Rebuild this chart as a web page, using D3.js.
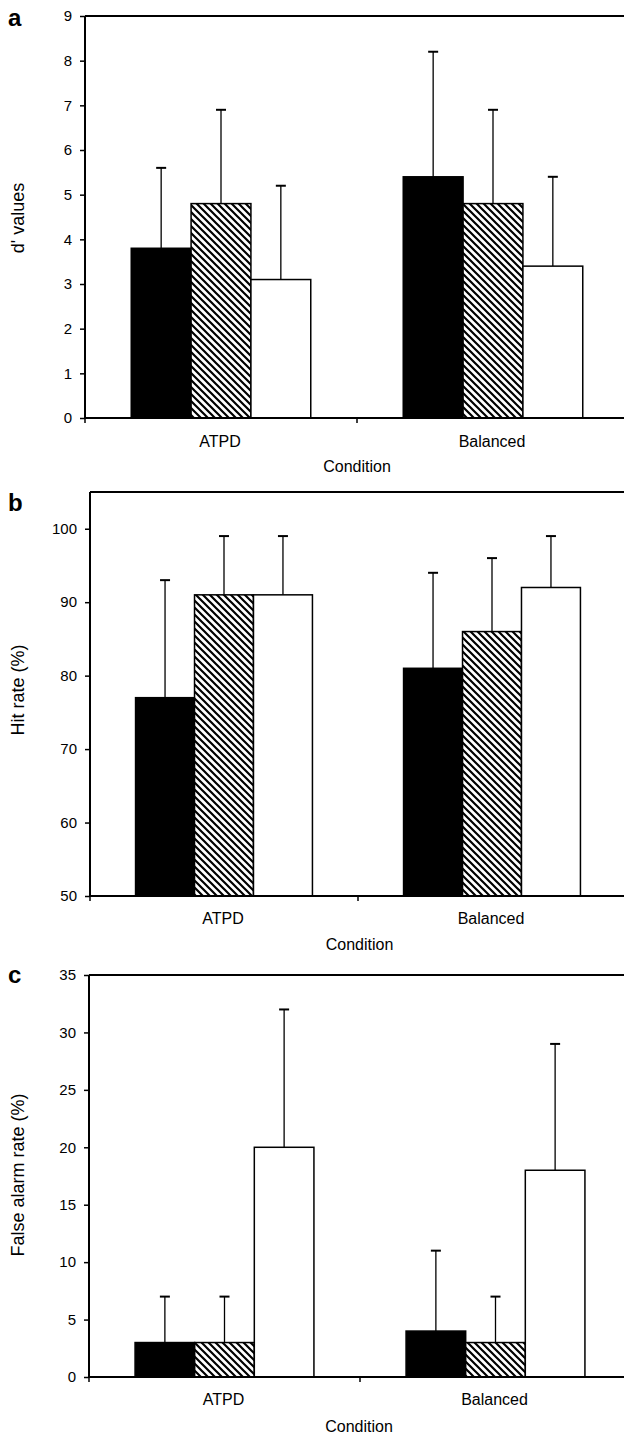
<!DOCTYPE html>
<html>
<head>
<meta charset="utf-8">
<script src="https://cdn.jsdelivr.net/npm/d3@7"></script>
<style>
  body { margin: 0; background: #fff; }
  svg { display: block; }
  text { font-family: "Liberation Sans", Arial, sans-serif; fill: #000; }
</style>
</head>
<body>
<svg id="chart" width="624" height="1436"></svg>
<script>
// categories and series
var conditions = ["ATPD", "Balanced"];
var groups = ["black", "hatch", "white"];

// panel a: d' values (mean, upper error end)
var dMeans = [[3.8, 4.8, 3.1], [5.4, 4.8, 3.4]];
var dErrTop = [[5.6, 6.9, 5.2], [8.2, 6.9, 5.4]];
var dTicks = [0, 1, 2, 3, 4, 5, 6, 7, 8, 9];

// panel b: hit rate
var hitMeans = [[77, 91, 91], [81, 86, 92]];
var hitErrTop = [[93, 99, 99], [94, 96, 99]];
var hitTicks = [50, 60, 70, 80, 90, 100];

// panel c: false alarm rate
var faMeans = [[3, 3, 20], [4, 3, 18]];
var faErrTop = [[7, 7, 32], [11, 7, 29]];
var faTicks = [0, 5, 10, 15, 20, 25, 30, 35];

var svg = d3.select("#chart");

// hatch pattern for the middle bars
var defs = svg.append("defs");
var pat = defs.append("pattern")
	.attr("id", "hatch")
	.attr("patternUnits", "userSpaceOnUse")
	.attr("width", 7)
	.attr("height", 7);
pat.append("rect").attr("width", 7).attr("height", 7).attr("fill", "#fff");
pat.append("path")
	.attr("d", "M-1,-1 L8,8 M-4,3 L1,8 M6,-1 L9,2")
	.attr("stroke", "#000")
	.attr("stroke-width", 2.2);

var fills = { black: "#000", hatch: "url(#hatch)", white: "#fff" };

function drawPanel(p) {
	var g = svg.append("g");

	var y = d3.scaleLinear().domain(p.domain).range([p.bottom, p.top]);
	var x0 = d3.scaleBand().domain(conditions).range([p.left, p.right]);
	var bw = x0.bandwidth();
	var x1 = d3.scaleBand().domain(groups).range([bw * 0.17, bw * 0.83]);

	// top frame line
	g.append("line")
		.attr("x1", p.left).attr("x2", p.right)
		.attr("y1", p.top).attr("y2", p.top)
		.attr("stroke", "#000").attr("stroke-width", 2);

	// bars
	conditions.forEach(function(c, ci) {
		groups.forEach(function(s, si) {
			var xb = x0(c) + x1(s);
			var v = p.means[ci][si];
			var e = p.errTop[ci][si];
			var cx = xb + x1.bandwidth() / 2;
			// error bar (upper only)
			g.append("line")
				.attr("x1", cx).attr("x2", cx)
				.attr("y1", y(v)).attr("y2", y(e))
				.attr("stroke", "#000").attr("stroke-width", 1.3);
			g.append("line")
				.attr("x1", cx - 5).attr("x2", cx + 5)
				.attr("y1", y(e)).attr("y2", y(e))
				.attr("stroke", "#000").attr("stroke-width", 2);
			g.append("rect")
				.attr("x", xb)
				.attr("y", y(v))
				.attr("width", x1.bandwidth())
				.attr("height", y(p.domain[0]) - y(v))
				.attr("fill", fills[s])
				.attr("stroke", "#000")
				.attr("stroke-width", 1.5);
		});
	});

	// y axis
	var ya = g.append("g")
		.attr("transform", "translate(" + p.left + ",0)")
		.call(d3.axisLeft(y).tickValues(p.ticks).tickSize(5).tickPadding(8).tickFormat(d3.format("d")));
	ya.select(".domain").attr("stroke-width", 2).attr("d", "M0," + p.top + "V" + p.bottom);
	ya.selectAll(".tick line").attr("stroke-width", 1.5);
	ya.selectAll("text")
		.style("font-family", "'Liberation Sans', Arial, sans-serif")
		.style("font-size", "15px");

	// x axis
	g.append("line")
		.attr("x1", p.left).attr("x2", p.right)
		.attr("y1", p.bottom).attr("y2", p.bottom)
		.attr("stroke", "#000").attr("stroke-width", 2);
	var edges = [p.left].concat(conditions.map(function(c) { return x0(c) + bw; }));
	edges.forEach(function(ex) {
		g.append("line")
			.attr("x1", ex).attr("x2", ex)
			.attr("y1", p.bottom).attr("y2", p.bottom + 5)
			.attr("stroke", "#000").attr("stroke-width", 1.5);
	});
	conditions.forEach(function(c) {
		g.append("text")
			.attr("x", x0(c) + bw / 2 - 1)
			.attr("y", p.catY)
			.attr("text-anchor", "middle")
			.style("font-size", "16px")
			.text(c);
	});
	g.append("text")
		.attr("x", (p.left + 629) / 2)
		.attr("y", p.condY)
		.attr("text-anchor", "middle")
		.style("font-size", "16px")
		.text("Condition");

	// y title
	g.append("text")
		.attr("transform", "translate(24," + p.titleY + ") rotate(-90)")
		.attr("text-anchor", "middle")
		.style("font-size", "18px")
		.text(p.title);

	// panel letter
	g.append("text")
		.attr("x", 8)
		.attr("y", p.letterY)
		.style("font-size", "24px")
		.style("font-weight", "bold")
		.text(p.letter);
}

drawPanel({ letter: "a", letterY: 26, title: "d' values", titleY: 218,
	domain: [0, 9], ticks: dTicks, means: dMeans, errTop: dErrTop,
	left: 85, right: 629, top: 16, bottom: 418, catY: 447, condY: 472 });

drawPanel({ letter: "b", letterY: 511, title: "Hit rate (%)", titleY: 690,
	domain: [50, 105], ticks: hitTicks, means: hitMeans, errTop: hitErrTop,
	left: 90, right: 626, top: 492, bottom: 896, catY: 924, condY: 950 });

drawPanel({ letter: "c", letterY: 983, title: "False alarm rate (%)", titleY: 1175,
	domain: [0, 35], ticks: faTicks, means: faMeans, errTop: faErrTop,
	left: 89, right: 631, top: 975, bottom: 1377, catY: 1405, condY: 1432 });
</script>
</body>
</html>
